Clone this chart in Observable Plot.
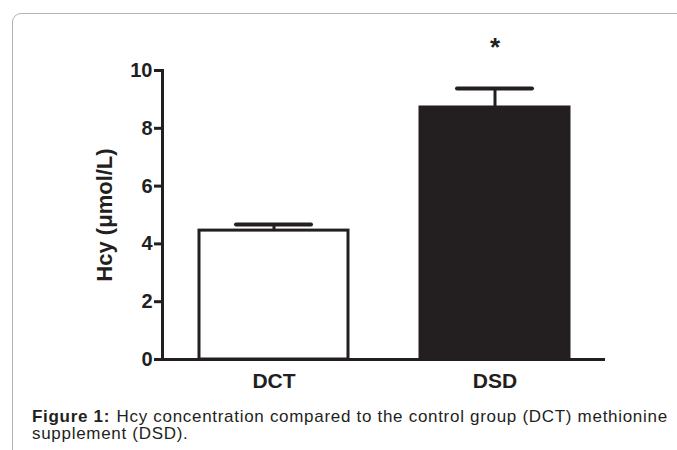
<!DOCTYPE html>
<html>
<head>
<meta charset="utf-8">
<script src="https://cdn.jsdelivr.net/npm/d3@7"></script>
<script src="https://cdn.jsdelivr.net/npm/@observablehq/plot@0.6"></script>
<style>
  html, body { margin: 0; padding: 0; background: #fff; overflow: hidden; width: 677px; height: 450px; }
  #frame { position: absolute; left: 12px; top: 13px; width: 720px; height: 520px; border: 1.5px solid #b3b3b3; border-radius: 9px; box-sizing: border-box; }
  #chart { position: absolute; left: 0; top: 0; }
  #chart svg text { font-weight: bold; }
  #caption { position: absolute; left: 32px; top: 408px; width: 660px; font-family: Arial, "Liberation Sans", sans-serif; font-size: 17px; letter-spacing: 0.7px; line-height: 17px; color: #231f20; }
  #caption b { margin-right: 1px; }
</style>
</head>
<body>
<div id="frame"></div>
<div id="chart"></div>
<div id="caption"><b>Figure 1:</b> Hcy concentration compared to the control group (DCT) methionine supplement (DSD).</div>
<script>
const groups = ["DCT", "DSD"];
const means = [4.46, 8.72];
const upperErr = [4.67, 9.38];
const fills = ["white", "#231f20"];
const sigMarks = ["", "*"];
const yTicks = [0, 2, 4, 6, 8, 10];
const yLabel = "Hcy (\u03bcmol/L)";

const data = groups.map((g, i) => ({group: g, mean: means[i], upper: upperErr[i], fill: fills[i], sig: sigMarks[i]}));

const ink = "#231f20";
const chart = Plot.plot({
  width: 677,
  height: 400,
  marginLeft: 162,
  marginRight: 72,
  marginTop: 70,
  marginBottom: 41,
  style: {fontFamily: "Arial, 'Liberation Sans', sans-serif", color: ink, background: "transparent"},
  x: {domain: groups, paddingInner: 0.326, paddingOuter: 0.165},
  y: {domain: [0, 10]},
  marks: [
    Plot.barY(data, {x: "group", y: "mean", fill: "fill", stroke: ink, strokeWidth: 3}),
    Plot.ruleX(data, {x: "group", y1: "mean", y2: "upper", stroke: ink, strokeWidth: 3}),
    Plot.tickY(data, {x: "group", y: "upper", stroke: ink, strokeWidth: 4, strokeLinecap: "round", insetLeft: 37, insetRight: 37}),
    Plot.text(data, {x: "group", y: "upper", text: "sig", dy: -41, fontSize: 26, fontWeight: "bold", fill: ink}),
    Plot.frame({anchor: "left", stroke: ink, strokeWidth: 3}),
    Plot.ruleY([0], {stroke: ink, strokeWidth: 3}),
    Plot.axisY({ticks: yTicks, tickSize: 8, tickPadding: 2, strokeWidth: 3, fontSize: 20, fontWeight: "bold", label: null}),
    Plot.axisX({tickSize: 0, tickPadding: 14, fontSize: 21, fontWeight: "bold", label: null}),
    Plot.text([yLabel], {frameAnchor: "left", textAnchor: "middle", rotate: -90, dx: -58, fontSize: 22, fontWeight: "bold", fill: ink})
  ]
});
document.getElementById("chart").appendChild(chart);
</script>
</body>
</html>
